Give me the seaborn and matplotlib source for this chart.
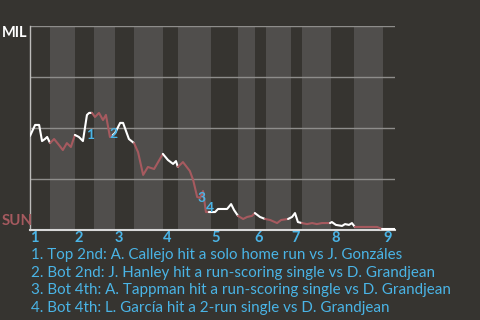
import matplotlib
matplotlib.use("Agg")
import matplotlib.pyplot as plt
import seaborn as sns
import pandas as pd

# ---- data -------------------------------------------------------------
# half-inning boundaries (game progress units, 0..100)
half_starts = [0, 5.5, 12.3, 17.5, 23.3, 28.5, 36.4, 40.5, 49.6, 57.0,
               61.6, 64.7, 71.5, 74.5, 82.5, 88.8, 96.7]
game_end = 100
inning_labels = ["1", "2", "3", "4", "5", "6", "7", "8", "9"]

# win-probability path (MIL win probability), grouped by half-inning
half_x = [
    [0, 1.4, 2.5, 3.3, 4.1, 4.7, 5.5],                 # 1T
    [6.6, 7.7, 9.0, 10.1, 11.2, 12.3],                  # 1B
    [13.4, 14.5, 15.6, 16.2, 17.0],                     # 2T
    [17.8, 18.9, 20.0, 20.8, 21.9, 22.7],               # 2B
    [23.3, 24.7, 25.5, 27.1, 28.5],                     # 3T
    [29.6, 31.0, 32.3, 34.0, 36.4],                     # 3B
    [37.8, 39.2, 40.0, 40.5],                           # 4T
    [41.9, 43.8, 44.7, 45.8, 46.6, 47.4, 48.2, 49.0],   # 4B
    [50.7, 51.5, 54.0, 55.1, 55.9, 57.0],               # 5T
    [58.4, 59.5, 60.8, 61.6],                           # 5B
    [63.0, 64.4],                                       # 6T
    [65.8, 67.7, 68.8, 70.7],                           # 6B
    [71.8, 72.6, 73.4, 74.5],                           # 7T
    [75.9, 77.3, 78.6, 80.0, 82.2],                     # 7B
    [82.7, 83.8, 85.5, 86.3, 87.4, 88.2, 89.0],         # 8T
    [90.4, 95.1, 96.4],                                 # 8B
    [97.3, 100],                                        # 9T
]
half_wp = [
    [0.461, 0.515, 0.515, 0.436, 0.446, 0.456, 0.426],
    [0.446, 0.422, 0.392, 0.426, 0.407, 0.466],
    [0.456, 0.436, 0.564, 0.574, 0.574],
    [0.554, 0.574, 0.539, 0.564, 0.456, 0.466],
    [0.475, 0.525, 0.525, 0.446, 0.426],
    [0.382, 0.270, 0.309, 0.299, 0.373],
    [0.343, 0.324, 0.338, 0.309],
    [0.333, 0.289, 0.245, 0.162, 0.157, 0.191, 0.088, 0.088],
    [0.088, 0.103, 0.103, 0.127, 0.098, 0.069],
    [0.054, 0.064, 0.069, 0.083],
    [0.064, 0.054],
    [0.049, 0.034, 0.049, 0.054],
    [0.064, 0.083, 0.039, 0.034],
    [0.029, 0.034, 0.029, 0.034, 0.034],
    [0.039, 0.025, 0.020, 0.029, 0.025, 0.034, 0.015],
    [0.015, 0.015, 0.005],
    [0.005, 0.005],
]

events = ["1", "2", "3", "4"]
event_x = [16.4, 23.0, 47.0, 49.3]
event_wp = [0.466, 0.471, 0.157, 0.108]
notes = [
    "1. Top 2nd: A. Callejo hit a solo home run vs J. Gonzáles",
    "2. Bot 2nd: J. Hanley hit a run-scoring single vs D. Grandjean",
    "3. Bot 4th: A. Tappman hit a run-scoring single vs D. Grandjean",
    "4. Bot 4th: L. García hit a 2-run single vs D. Grandjean",
]

# ---- style ------------------------------------------------------------
BG = "#363430"
BAND = "#504e4c"
WHITE = "#ffffff"
RED = "#a65a5f"
BLUE = "#4ab4e6"
GRID = "#8e8d8b"

sns.set_theme(style="dark")
plt.rcParams["font.family"] = ["Lato", "DejaVu Sans"]

fig = plt.figure(figsize=(4.8, 3.2), dpi=100, facecolor=BG)
ax = fig.add_axes([30 / 480, 1 - 230 / 320, 365 / 480, 204 / 320])
ax.set_facecolor(BG)

bounds = half_starts + [game_end]
for i in range(len(half_starts)):
    if i % 2 == 1:
        ax.axvspan(bounds[i], bounds[i + 1], color=BAND, lw=0, zorder=0)

for yv in [0.25, 0.5, 0.75, 1.0]:
    ax.axhline(yv, color=GRID, lw=1, zorder=1)

prev_x, prev_y = None, None
for i, (xs, ys) in enumerate(zip(half_x, half_wp)):
    px = list(xs)
    py = list(ys)
    if prev_x is not None:
        px = [prev_x] + px
        py = [prev_y] + py
    df = pd.DataFrame({"x": px, "wp": py})
    sns.lineplot(data=df, x="x", y="wp", ax=ax, sort=False,
                 color=WHITE if i % 2 == 0 else RED, lw=1.5, zorder=3)
    prev_x, prev_y = xs[-1], ys[-1]

for lab, ex, ey in zip(events, event_x, event_wp):
    ax.text(ex, ey, lab, color=BLUE, fontsize=10, fontweight="bold",
            ha="center", va="center", zorder=4)

ax.set_xlim(0, game_end)
ax.set_ylim(0, 1)
ax.set_xlabel("")
ax.set_ylabel("")
ax.set_yticks([])
inning_x = [half_starts[k] for k in range(0, len(half_starts), 2)]
ax.set_xticks(inning_x)
ax.set_xticklabels(inning_labels, color=BLUE, fontsize=10.5, fontweight="bold")
for t in ax.get_xticklabels():
    t.set_horizontalalignment("left")
ax.tick_params(axis="x", length=0, pad=1)
for s in ["top", "right"]:
    ax.spines[s].set_visible(False)
ax.spines["left"].set_color("#bdbcba")
ax.spines["left"].set_linewidth(1)
ax.spines["bottom"].set_color("#d8d8d8")
ax.spines["bottom"].set_linewidth(1.5)

fig.text(2 / 480, 1 - 33 / 320, "MIL", color=WHITE, fontsize=10.5,
         fontweight="bold", ha="left", va="center")
fig.text(2 / 480, 1 - 221 / 320, "SUN", color=RED, fontsize=10.8,
         fontweight="bold", ha="left", va="center")

for k, line in enumerate(notes):
    fig.text(31 / 480, 1 - (255 + k * 17.7) / 320, line, color=BLUE,
             fontsize=10.9, ha="left", va="center")

fig.savefig("out.png", dpi=100, facecolor=BG)
